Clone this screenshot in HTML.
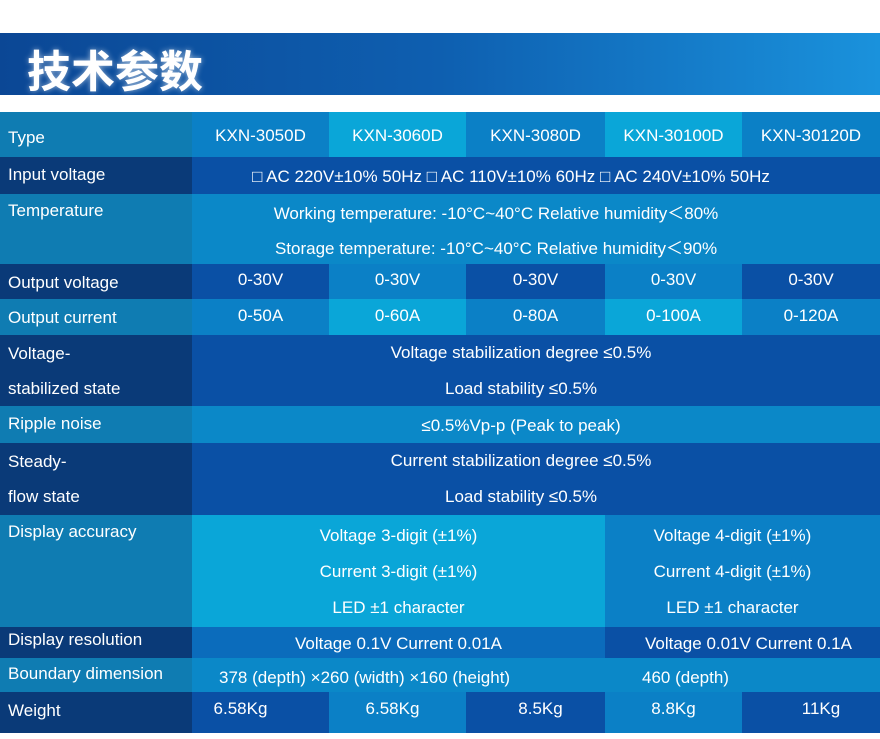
<!DOCTYPE html>
<html><head><meta charset="utf-8"><style>
body{margin:0;width:880px;height:739px;background:#fff;position:relative;overflow:hidden;font-family:"Liberation Sans","Noto Sans CJK SC",sans-serif}
.c{position:absolute;color:#fff;font-size:17px;box-sizing:border-box;white-space:nowrap}
.l{padding-left:8px}
.m{text-align:center}
.d{background:#0a3a78}.t{background:#0f7cb2}
.b{background:#0a50a5}.k{background:#0b80c6}.y{background:#0aa6d8}.g{background:#0b88c8}
#hdr{position:absolute;left:0;top:33px;width:880px;height:62px;background:linear-gradient(90deg,#0b4795,#0e5fb0 50%,#1a92dc)}
#hdr span{position:absolute;left:27px;top:3px;font-size:44px;font-weight:bold;color:#fff;font-family:"Noto Sans CJK SC",sans-serif;text-shadow:0 0 6px rgba(255,255,255,.6)}
</style></head><body>
<div id="hdr"><span>技术参数</span></div>

<div class="c l t" style="left:0;top:112px;width:192px;height:45px;line-height:52px">Type</div>
<div class="c m k" style="left:192px;top:112px;width:137px;height:45px;line-height:48px">KXN-3050D</div>
<div class="c m y" style="left:329px;top:112px;width:137px;height:45px;line-height:48px">KXN-3060D</div>
<div class="c m k" style="left:466px;top:112px;width:139px;height:45px;line-height:48px">KXN-3080D</div>
<div class="c m y" style="left:605px;top:112px;width:137px;height:45px;line-height:48px">KXN-30100D</div>
<div class="c m k" style="left:742px;top:112px;width:138px;height:45px;line-height:48px">KXN-30120D</div>

<div class="c l d" style="left:0;top:157px;width:192px;height:37px;line-height:36px">Input voltage</div>
<div class="c m b" style="left:192px;top:157px;width:688px;height:37px;line-height:40px;padding-right:50px">□ AC 220V±10% 50Hz □ AC 110V±10% 60Hz □ AC 240V±10% 50Hz</div>

<div class="c l t" style="left:0;top:194px;width:192px;height:70px;line-height:34px">Temperature</div>
<div class="c m g" style="left:192px;top:194px;width:688px;height:70px;line-height:35px;padding-right:80px;padding-top:2px">Working temperature: -10°C~40°C Relative humidity＜80%<br>Storage temperature: -10°C~40°C Relative humidity＜90%</div>

<div class="c l d" style="left:0;top:264px;width:192px;height:35px;line-height:38px">Output voltage</div>
<div class="c m b" style="left:192px;top:264px;width:137px;height:35px;line-height:32px">0-30V</div>
<div class="c m k" style="left:329px;top:264px;width:137px;height:35px;line-height:32px">0-30V</div>
<div class="c m b" style="left:466px;top:264px;width:139px;height:35px;line-height:32px">0-30V</div>
<div class="c m k" style="left:605px;top:264px;width:137px;height:35px;line-height:32px">0-30V</div>
<div class="c m b" style="left:742px;top:264px;width:138px;height:35px;line-height:32px">0-30V</div>

<div class="c l t" style="left:0;top:299px;width:192px;height:36px;line-height:38px">Output current</div>
<div class="c m k" style="left:192px;top:299px;width:137px;height:36px;line-height:34px">0-50A</div>
<div class="c m y" style="left:329px;top:299px;width:137px;height:36px;line-height:34px">0-60A</div>
<div class="c m k" style="left:466px;top:299px;width:139px;height:36px;line-height:34px">0-80A</div>
<div class="c m y" style="left:605px;top:299px;width:137px;height:36px;line-height:34px">0-100A</div>
<div class="c m k" style="left:742px;top:299px;width:138px;height:36px;line-height:34px">0-120A</div>

<div class="c l d" style="left:0;top:335px;width:192px;height:71px;line-height:35px;padding-top:1px">Voltage-<br>stabilized state</div>
<div class="c m b" style="left:192px;top:335px;width:688px;height:71px;line-height:36px;padding-right:30px">Voltage stabilization degree ≤0.5%<br>Load stability ≤0.5%</div>

<div class="c l t" style="left:0;top:406px;width:192px;height:37px;line-height:36px">Ripple noise</div>
<div class="c m g" style="left:192px;top:406px;width:688px;height:37px;line-height:40px;padding-right:30px">≤0.5%Vp-p (Peak to peak)</div>

<div class="c l d" style="left:0;top:443px;width:192px;height:72px;line-height:35px;padding-top:1px">Steady-<br>flow state</div>
<div class="c m b" style="left:192px;top:443px;width:688px;height:72px;line-height:36px;padding-right:30px">Current stabilization degree ≤0.5%<br>Load stability ≤0.5%</div>

<div class="c l t" style="left:0;top:515px;width:192px;height:112px;line-height:34px">Display accuracy</div>
<div class="c m y" style="left:192px;top:515px;width:413px;height:112px;line-height:36px;padding-top:3px">Voltage 3-digit (±1%)<br>Current 3-digit (±1%)<br>LED ±1 character</div>
<div class="c m k" style="left:605px;top:515px;width:275px;height:112px;line-height:36px;padding-top:3px;padding-right:20px">Voltage 4-digit (±1%)<br>Current 4-digit (±1%)<br>LED ±1 character</div>

<div class="c l d" style="left:0;top:627px;width:192px;height:31px;line-height:26px">Display resolution</div>
<div class="c m" style="left:192px;top:627px;width:413px;height:31px;line-height:34px;background:#0b6cbc">Voltage 0.1V Current 0.01A</div>
<div class="c m b" style="left:605px;top:627px;width:275px;height:31px;line-height:34px;padding-left:12px">Voltage 0.01V Current 0.1A</div>

<div class="c l t" style="left:0;top:658px;width:192px;height:34px;line-height:32px">Boundary dimension</div>
<div class="c g" style="left:192px;top:658px;width:688px;height:34px;line-height:40px"><span style="position:absolute;left:27px">378 (depth) ×260 (width) ×160 (height)</span><span style="position:absolute;left:450px">460 (depth)</span></div>

<div class="c l d" style="left:0;top:692px;width:192px;height:41px;line-height:38px">Weight</div>
<div class="c m b" style="left:192px;top:692px;width:137px;height:41px;line-height:34px;padding-right:40px">6.58Kg</div>
<div class="c m k" style="left:329px;top:692px;width:137px;height:41px;line-height:34px;padding-right:10px">6.58Kg</div>
<div class="c m b" style="left:466px;top:692px;width:139px;height:41px;line-height:34px;padding-left:10px">8.5Kg</div>
<div class="c m k" style="left:605px;top:692px;width:137px;height:41px;line-height:34px">8.8Kg</div>
<div class="c m b" style="left:742px;top:692px;width:138px;height:41px;line-height:34px;padding-left:20px">11Kg</div>
</body></html>
